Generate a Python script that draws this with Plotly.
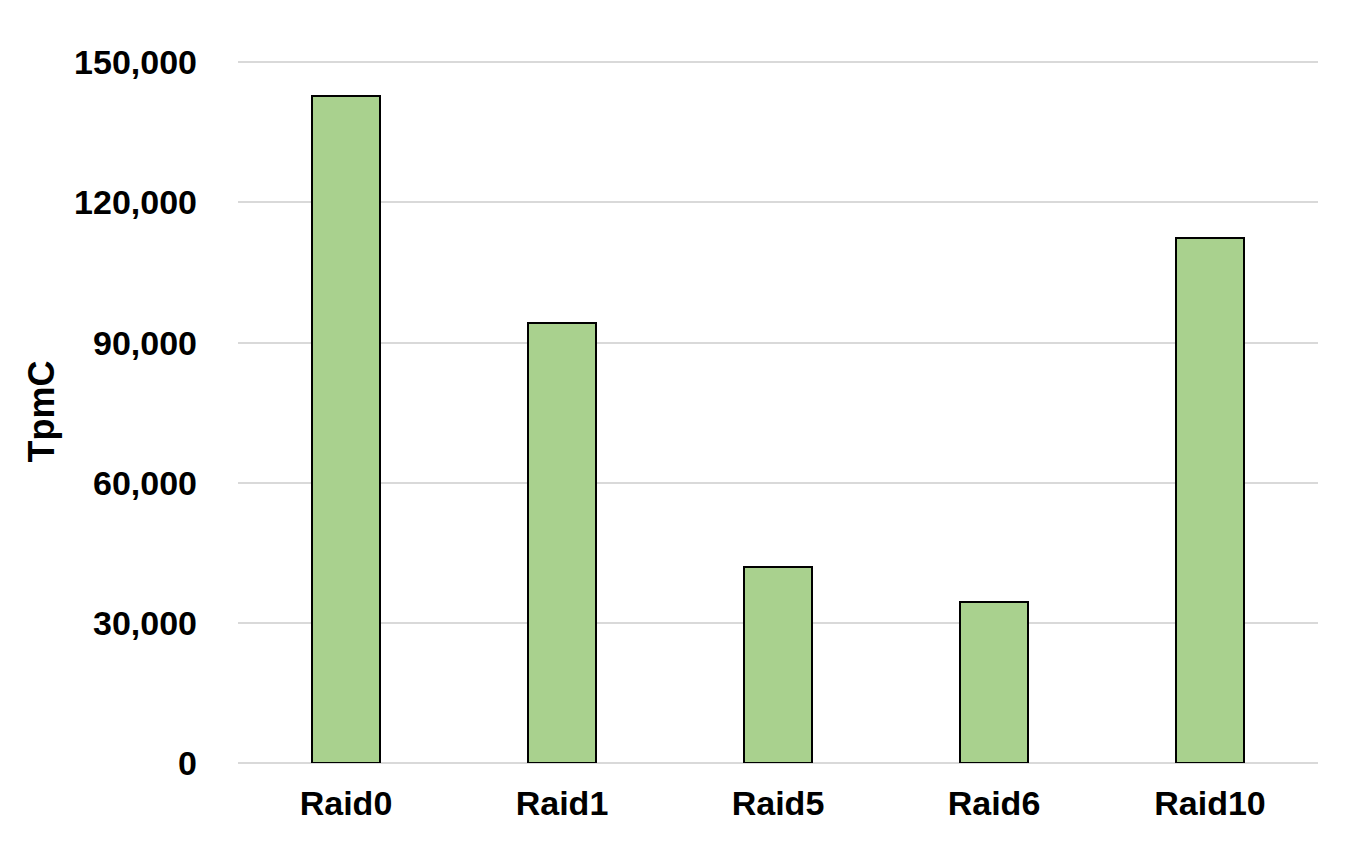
import plotly.graph_objects as go

# ── Data ─────────────────────────────────────────────────────────────
raid_levels = ["Raid0", "Raid1", "Raid5", "Raid6", "Raid10"]
tpmc = [142700, 94200, 42000, 34500, 112400]
y_ticks = [0, 30000, 60000, 90000, 120000, 150000]

BAR_GREEN = "#A9D18E"
GRID = "#D9D9D9"
FONT = "Liberation Sans, Arial, sans-serif"

fig = go.Figure(go.Bar(
    x=raid_levels,
    y=tpmc,
    width=0.315,
    marker=dict(color=BAR_GREEN, line=dict(color="#000000", width=2)),
))

# page body has an 8px margin, so the plot box is offset accordingly;
# y range is padded a little so plotly keeps the 150,000 gridline
fig.update_layout(
    width=1352,
    height=846,
    paper_bgcolor="white",
    plot_bgcolor="white",
    font=dict(family=FONT, color="#000000", size=34),
    margin=dict(l=230, r=42, t=52, b=91, pad=0),
    showlegend=False,
    bargap=0,
    xaxis=dict(
        showgrid=False,
        showline=False,
        zeroline=False,
        ticks="",
        ticklabelstandoff=17,
        tickfont=dict(family=FONT, size=34, color="#000000", weight="bold"),
    ),
    yaxis=dict(
        range=[0, 150500],
        tickvals=y_ticks,
        tickformat=",",
        showgrid=True,
        gridcolor=GRID,
        gridwidth=2,
        zeroline=True,
        zerolinecolor=GRID,
        zerolinewidth=2,
        showline=False,
        ticks="",
        ticklabelstandoff=40,
        tickfont=dict(family=FONT, size=34, color="#000000", weight="bold"),
        title=dict(
            text="TpmC",
            standoff=8,
            font=dict(family=FONT, size=36, color="#000000", weight="bold"),
        ),
    ),
)

fig.write_html("out.html")
